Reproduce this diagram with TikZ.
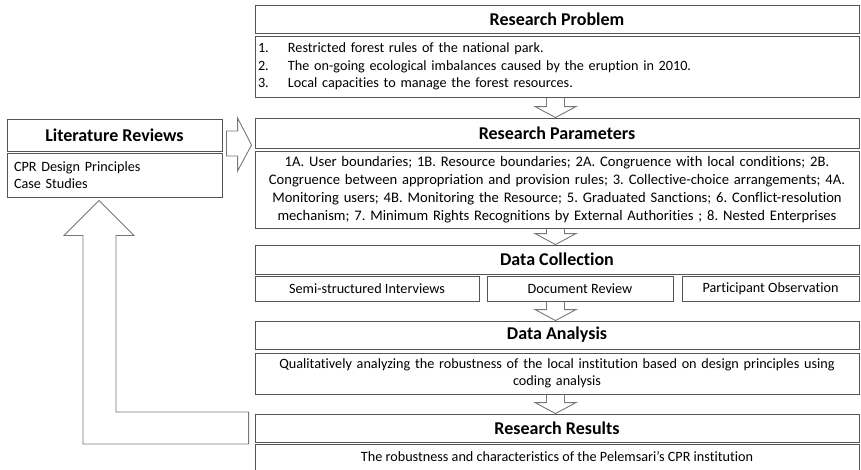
\documentclass[tikz,border=0pt]{standalone}
\usepackage{fontspec}
\setmainfont{Carlito}[Ligatures=NoCommon]
\usetikzlibrary{calc}
\frenchspacing
\definecolor{boxline}{HTML}{555555}
\definecolor{arrline}{HTML}{777777}
\tikzset{
  headbox/.style={draw=boxline, line width=0.9pt, font=\fontsize{18}{22}\selectfont\bfseries, inner sep=0pt},
  bodybox/.style={draw=boxline, line width=0.9pt, font=\fontsize{14.2}{17.5}\selectfont, inner xsep=6pt, inner ysep=0pt},
  blockarr/.style={draw=arrline, line width=0.9pt, line join=miter},
}
\newcommand\bx[7]{\node[#6, minimum width={(#4-#2)*1pt}, minimum height={(#5-#3)*1pt}] (#1) at ({(#2+#4)/2},{(#3+#5)/2}) {#7};}
\newcommand\blockdown[2]{%
  \draw[blockarr] let \p1=(#1.south), \p2=(#2.north) in
    (546.5pt,\y1) -- (546.5pt,\y2+11pt) -- (535pt,\y2+11pt) -- (555.5pt,\y2) -- (576pt,\y2+11pt) -- (564.5pt,\y2+11pt) -- (564.5pt,\y1);}
\begin{document}
\begin{tikzpicture}[x=1pt,y=-1pt]
\useasboundingbox (0,0) rectangle (861,469);
% Research Problem
\bx{rphead}{255}{5}{859}{33}{headbox}{Research Problem}
\bx{rpbody}{255}{36}{859}{97}{bodybox,inner xsep=3pt,text width=598pt,align=left}{%
\makebox[30pt][l]{1.}Restricted forest rules of the national park.\\
\makebox[30pt][l]{2.}The on-going ecological imbalances caused by the eruption in 2010.\\
\makebox[30pt][l]{3.}Local capacities to manage the forest resources.}
% Research Parameters
\bx{rparhead}{255}{118}{859}{148}{headbox}{Research Parameters}
\bx{rparbody}{255}{151}{859}{228}{bodybox,text width=592pt,align=center,font=\fontsize{14.6}{18}\selectfont}{%
1A. User boundaries; 1B. Resource boundaries; 2A. Congruence with local conditions; 2B.\\
Congruence between appropriation and provision rules; 3. Collective-choice arrangements; 4A.\\
Monitoring users; 4B. Monitoring the Resource; 5. Graduated Sanctions; 6. Conflict-resolution\\
mechanism; 7. Minimum Rights Recognitions by External Authorities ; 8. Nested Enterprises}
% Data Collection
\bx{dchead}{255}{245}{859}{274}{headbox}{Data Collection}
\bx{dc1}{255}{276}{479}{301}{bodybox}{Semi-structured Interviews}
\bx{dc2}{487}{276}{673}{301}{bodybox}{Document Review}
\bx{dc3}{682}{276}{859}{301}{bodybox}{Participant Observation}
% Data Analysis
\bx{dahead}{255}{321}{859}{349}{headbox}{Data Analysis}
\bx{dabody}{255}{353}{859}{394}{bodybox,text width=592pt,align=center}{%
Qualitatively analyzing the robustness of the local institution based on design principles using\\
coding analysis}
% Research Results
\bx{rrhead}{255}{414}{859}{442}{headbox}{Research Results}
\bx{rrbody}{255}{444}{859}{470}{bodybox}{The robustness and characteristics of the Pelemsari’s CPR institution}
% Literature Reviews
\bx{lrhead}{7}{119}{222}{151}{headbox}{Literature Reviews}
\bx{lrbody}{7}{153}{222}{197}{bodybox,inner xsep=7pt,text width=201pt,align=left,font=\fontsize{14.2}{17}\selectfont}{%
CPR Design Principles\\
Case Studies}
% down arrows
\blockdown{rpbody}{rparhead}
\blockdown{rparbody}{dchead}
\blockdown{dc2}{dahead}
\blockdown{dabody}{rrhead}
% right arrow
\draw[blockarr] let \p1=(lrhead.east), \p2=(rparhead.west) in
  (\x1+4pt,-131pt) -- (\x2-17pt,-131pt) -- (\x2-17pt,-118pt) -- (\x2-3pt,-145pt)
  -- (\x2-17pt,-171pt) -- (\x2-17pt,-156pt) -- (\x1+4pt,-156pt) -- cycle;
% L-shaped feedback arrow
\draw[blockarr] let \p1=(rrhead.west), \p2=(lrbody.south) in
  (\x1-6pt,\y1+16pt) -- (116pt,\y1+16pt) -- (116pt,\y2-38pt) -- (134pt,\y2-38pt)
  -- (99pt,\y2-3pt) -- (64pt,\y2-38pt) -- (83pt,\y2-38pt) -- (83pt,\y1-16pt)
  -- (\x1-6pt,\y1-16pt) -- cycle;
\end{tikzpicture}
\end{document}
